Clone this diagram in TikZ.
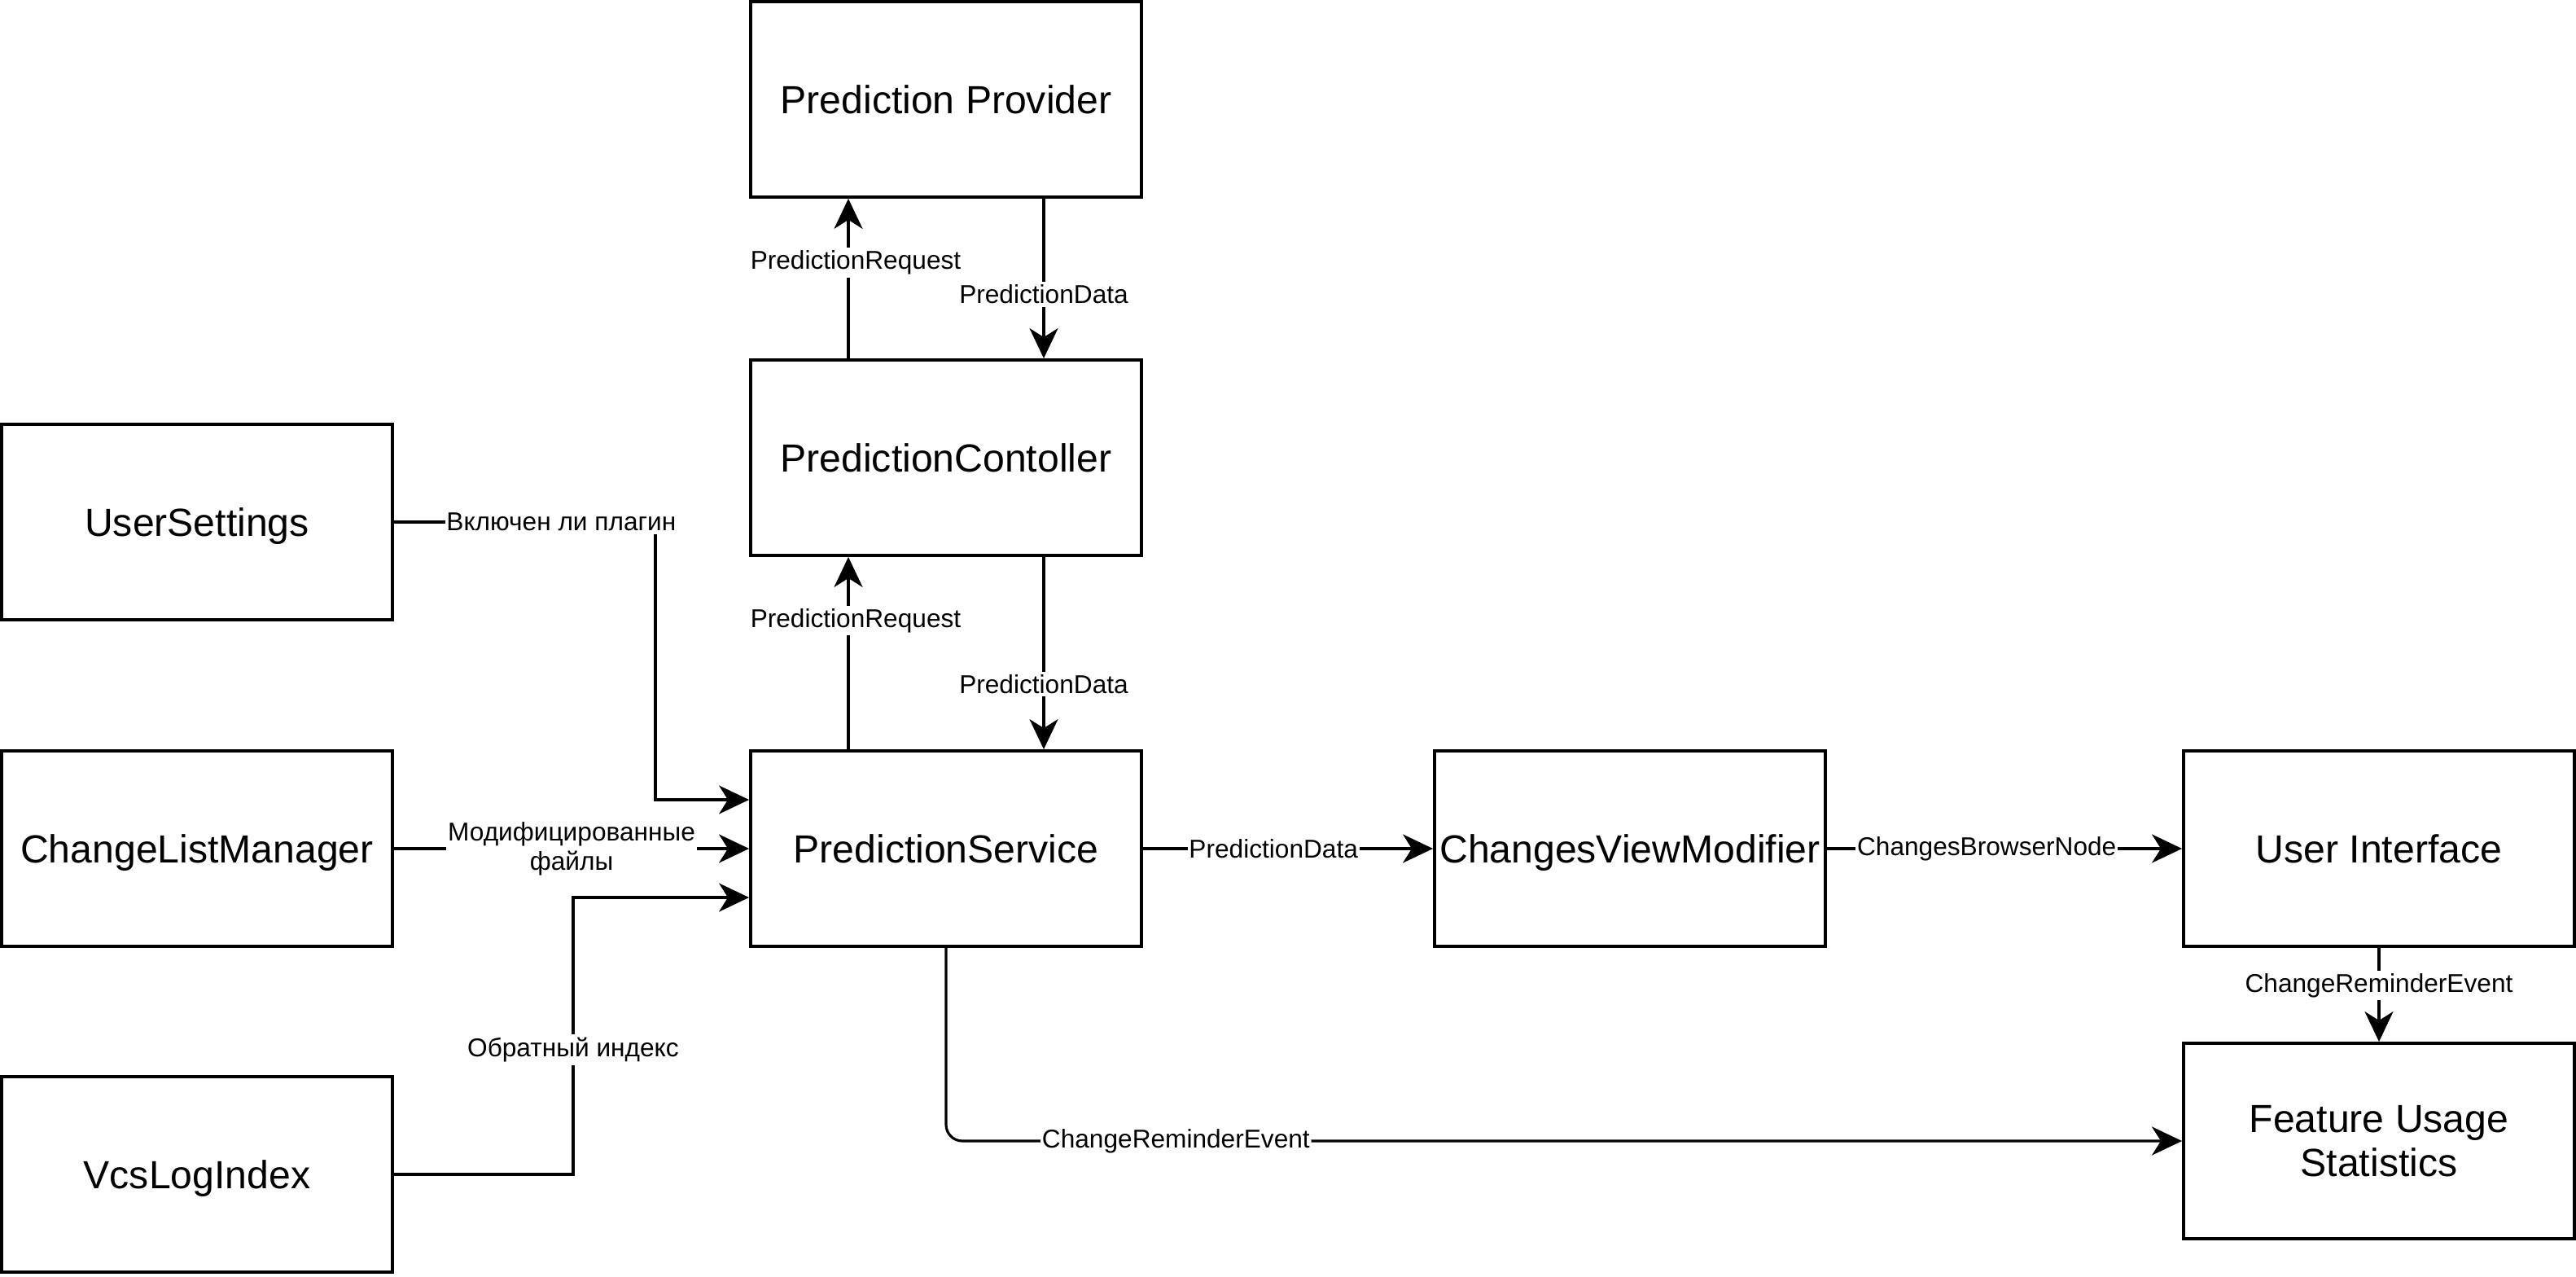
\documentclass[tikz,border=0pt]{standalone}
\usepackage{fontspec}
\setmainfont{Liberation Sans}
\usetikzlibrary{arrows.meta}

\begin{document}
\begin{tikzpicture}[
		box/.style={draw, line width=1.1pt, minimum width=4.8cm, minimum height=2.4cm, inner sep=0pt, text depth=0pt, align=center, font=\fontsize{13.7}{15.5}\selectfont},
		lbl/.style={fill=white, inner xsep=0.5pt, inner ysep=1pt, align=center, font=\fontsize{9}{10.3}\selectfont},
		arr/.style={-{Stealth[length=3.7mm, width=3.5mm, inset=1.1mm]}, line width=0.9pt}
	]
				\useasboundingbox (0, 0) rectangle (31.64, -15.68);
				\node[box] (pp) at (11.62, -1.22) {Prediction Provider};
				\node[box] (pc) at (11.62, -5.62) {PredictionContoller};
				\node[box] (ps) at (11.62, -10.42) {PredictionService};
				\node[box] (us) at (2.42, -6.41) {UserSettings};
				\node[box] (clm) at (2.42, -10.42) {ChangeListManager};
				\node[box] (vli) at (2.42, -14.42) {VcsLogIndex};
				\node[box] (cvm) at (20.02, -10.42) {ChangesViewModifier};
				\node[box] (ui) at (29.22, -10.42) {User Interface};
				\node[box] (fus) at (29.22, -14.01) {Feature Usage\\Statistics};
				\draw[arr] ([xshift=-1.2cm]pc.north) -- node[lbl, pos=0.6, xshift=0.09cm] {PredictionRequest} ([xshift=-1.2cm]pp.south);
				\draw[arr] ([xshift=1.2cm]pp.south) -- node[lbl, pos=0.6] {PredictionData} ([xshift=1.2cm]pc.north);
				\draw[arr] ([xshift=-1.2cm]ps.north) -- node[lbl, pos=0.67, xshift=0.09cm] {PredictionRequest} ([xshift=-1.2cm]pc.south);
				\draw[arr] ([xshift=1.2cm]pc.south) -- node[lbl, pos=0.66] {PredictionData} ([xshift=1.2cm]ps.north);
				\draw[arr] (us.east) -- ++(3.21, 0) |- ([yshift=0.6cm]ps.west);
				\path (us.east) -- node[lbl, pos=0.64] {Включен ли плагин} ++(3.21, 0);
				\draw[arr] (clm.east) -- node[lbl] {Модифицированные\\файлы} (ps.west);
				\draw[arr] (vli.east) -- ++(2.2, 0) |- node[lbl, pos=0.225] {Обратный индекс} ([yshift=-0.6cm]ps.west);
				\draw[arr] (ps.east) -- node[lbl, pos=0.45] {PredictionData} (cvm.west);
				\draw[arr] (cvm.east) -- node[lbl, pos=0.45] {ChangesBrowserNode} (ui.west);
				\draw[arr] (ui.south) -- node[lbl, pos=0.4] {ChangeReminderEvent} (fus.north);
				\draw[arr, rounded corners=0.2cm] (ps.south) |- node[lbl, pos=0.593] {ChangeReminderEvent} (fus.west);
			\end{tikzpicture}
\end{document}
